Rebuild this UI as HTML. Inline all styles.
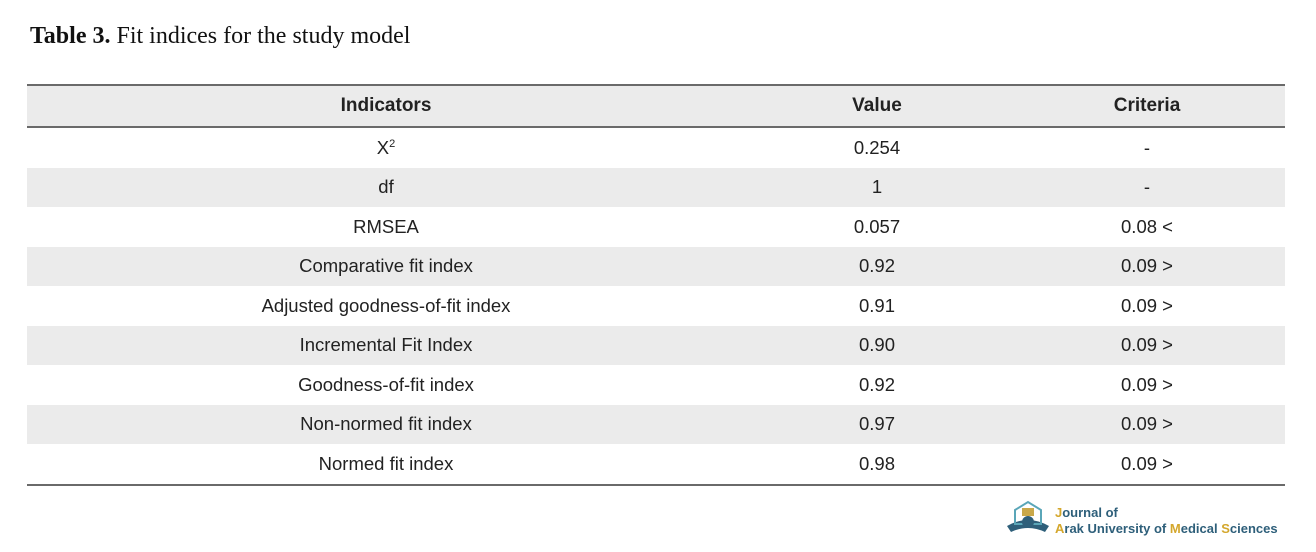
<!DOCTYPE html>
<html><head><meta charset="utf-8"><style>
body{margin:0;width:1316px;height:552px;background:#fff;position:relative;overflow:hidden;font-family:"Liberation Sans",sans-serif;color:#222}
.title{position:absolute;left:30px;top:23px;font-family:"Liberation Serif",serif;font-size:24px;color:#111}
table{position:absolute;left:27px;top:84px;width:1258px;border-collapse:collapse;font-size:18.5px}
th{font-weight:bold;height:38px;background:#ebebeb;border-top:2px solid #6a6a6a;border-bottom:2px solid #6a6a6a;font-size:19px}
td{height:39.5px;padding:0;text-align:center;line-height:20px}
tr.s td{background:#ebebeb}
tr:last-child td{border-bottom:2px solid #6a6a6a}
.c1{width:716px}.c2{width:262px}
.logo{position:absolute;left:1003px;top:500px;width:290px;height:40px}
</style></head><body>
<div class="title"><b>Table 3.</b> Fit indices for the study model</div>
<table>
<tr><th class="c1">Indicators</th><th class="c2">Value</th><th>Criteria</th></tr>
<tr><td>X<sup style="font-size:11px;line-height:0">2</sup></td><td>0.254</td><td>-</td></tr>
<tr class="s"><td>df</td><td>1</td><td>-</td></tr>
<tr><td>RMSEA</td><td>0.057</td><td>0.08 &lt;</td></tr>
<tr class="s"><td>Comparative fit index</td><td>0.92</td><td>0.09 &gt;</td></tr>
<tr><td>Adjusted goodness-of-fit index</td><td>0.91</td><td>0.09 &gt;</td></tr>
<tr class="s"><td>Incremental Fit Index</td><td>0.90</td><td>0.09 &gt;</td></tr>
<tr><td>Goodness-of-fit index</td><td>0.92</td><td>0.09 &gt;</td></tr>
<tr class="s"><td>Non-normed fit index</td><td>0.97</td><td>0.09 &gt;</td></tr>
<tr><td>Normed fit index</td><td>0.98</td><td>0.09 &gt;</td></tr>
</table>
<svg class="logo" viewBox="0 0 290 40">
<path d="M4 26 Q25 14 46 26 L42 32 Q25 24 8 32Z" fill="#2e5f7a"/>
<path d="M12 10 L25 2 L38 10 L38 24 L12 24Z" fill="none" stroke="#5aa6b8" stroke-width="2"/>
<circle cx="25" cy="22" r="6" fill="#2e5f7a"/>
<rect x="19" y="8" width="12" height="8" fill="#c9a84a"/>
<text x="52" y="17" font-family="Liberation Sans,sans-serif" font-size="13" font-weight="bold" fill="#2e5f7a"><tspan fill="#d4a72c">J</tspan>ournal of</text>
<text x="52" y="33" font-family="Liberation Sans,sans-serif" font-size="13" font-weight="bold" fill="#2e5f7a"><tspan fill="#d4a72c">A</tspan>rak University of <tspan fill="#d4a72c">M</tspan>edical <tspan fill="#d4a72c">S</tspan>ciences</text>
</svg>
</body></html>
